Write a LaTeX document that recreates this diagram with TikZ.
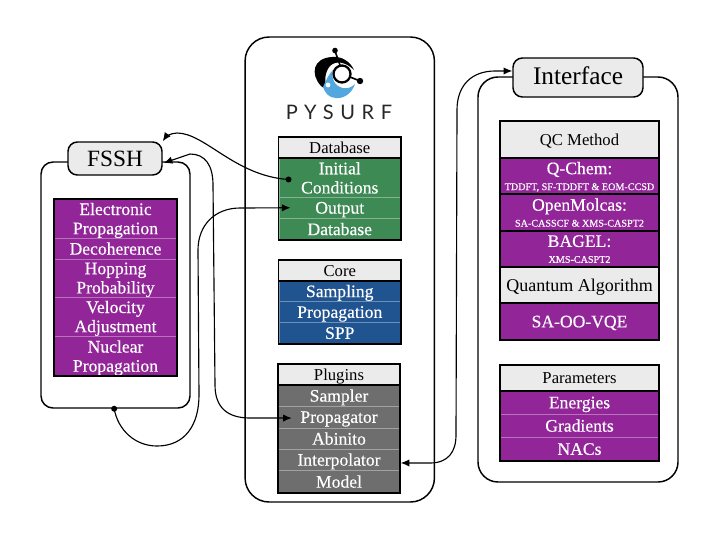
\documentclass[tikz,border=0pt]{standalone}
\usepackage{fontspec}
\setmainfont{Liberation Serif}
\newfontfamily\rowfont[FakeBold=0.35]{Liberation Serif}
\newfontfamily\logofont[LetterSpace=33]{Lato}
\usepackage{xcolor}
\usetikzlibrary{calc,arrows.meta}
\definecolor{dbgreen}{RGB}{62,138,85}
\definecolor{coreblue}{RGB}{32,84,145}
\definecolor{plugray}{RGB}{110,110,110}
\definecolor{ifpurple}{RGB}{146,38,152}
\definecolor{headgray}{RGB}{235,235,235}
\definecolor{logoblue}{RGB}{82,168,222}
\tikzset{
  frame/.style={draw=black,line width=1.1pt,rounded corners=#1,inner sep=0pt},
  label/.style={draw=black,line width=1.1pt,fill=headgray,rounded corners=7pt,inner sep=0pt},
  row/.style={fill=#1,draw=white!35!#1,line width=0.3pt,text=white,inner sep=0pt,align=center,text depth=0pt,
    font=\rowfont\fontsize{13.2}{14.4}\selectfont},
  head/.style={fill=headgray,inner sep=0pt,align=center,text=black,text depth=0pt,font=\fontsize{12.5}{14.4}\selectfont},
  table/.style={draw=black,line width=1.2pt},
  link/.style={black,line width=0.85pt,>={Latex[length=6.5pt,width=5.5pt]}}
}
\newcommand{\subline}[1]{{\fontsize{7.6}{8}\selectfont #1}}
\begin{document}
\begin{tikzpicture}[x=0.75pt,y=-0.75pt]
  \useasboundingbox (0,0) rectangle (720,540);

  % outer frames
  \node[frame=18pt,minimum width=142pt,minimum height=348.75pt] (coreframe) at (339.75,269.5) {};
  \node[frame=9pt,minimum width=111.75pt,minimum height=184.5pt] (fsshframe) at (115.5,285) {};
  \node[frame=15pt,minimum width=150pt,minimum height=303.75pt] (ifframe) at (578,279.5) {};
  \node[label,minimum width=70.5pt,minimum height=24.75pt,font=\fontsize{17.5}{20}\selectfont] (fsshlabel) at (115,158.5) {FSSH};
  \node[label,minimum width=97.5pt,minimum height=29.25pt,font=\fontsize{19}{22}\selectfont] (iflabel) at (578,77.5) {\raisebox{2.2pt}{Interface}};

  % logo
  \fill[black] (321,86) .. controls (310,74) and (313,58) .. (332,57) .. controls (341,56) and (350,61) .. (354,70)
    .. controls (346,62) and (336,60) .. (330,66) .. controls (325,72) and (324,80) .. (327,90) -- cycle;
  \fill[logoblue] (323,87) .. controls (326,80) and (329,74) .. (333,70) .. controls (331,78) and (334,86) .. (343,88)
    .. controls (348,89) and (352,87) .. (355,84) .. controls (352,93) and (344,99) .. (336,98) .. controls (329,98) and (325,93) .. (323,87) -- cycle;
  \fill[white] (328,85) circle (2.4);
  \draw[black,line width=1.7pt,fill=white] (342,74) circle (8.5);
  \draw[black,line width=1.2pt] (335,51) -- (340,65);
  \draw[black,line width=1.2pt] (350,77) -- (360,81);
  \fill[black] (335,50.5) circle (2.8);
  \fill[black] (360,81) circle (3.2);
  \node[inner sep=0pt,text=black!85,font=\logofont\fontsize{15}{17}\selectfont] (logotext) at (339,112) {PYSURF};

  % database
  \node[head,minimum width=91.5pt,minimum height=15.75pt] (dbhead) at (339.75,147.5) {Database};
  \node[row=dbgreen,minimum width=91.5pt,minimum height=29.25pt] (dbinit) at (339.75,177.75) {Initial\\Conditions};
  \node[row=dbgreen,minimum width=91.5pt,minimum height=15.75pt] (dboutput) at (339.75,207.75) {Output};
  \node[row=dbgreen,minimum width=91.5pt,minimum height=15.75pt] (dbbase) at (339.75,229) {Database};
  \draw[table] (dbhead.north west) rectangle (dbbase.south east);
  \draw[table] (dbhead.south west) -- (dbhead.south east);

  % core
  \node[head,minimum width=91.5pt,minimum height=15.75pt] (corehead) at (339.75,270.5) {Core};
  \node[row=coreblue,minimum width=91.5pt,minimum height=15.75pt] (coresampling) at (339.75,291) {Sampling};
  \node[row=coreblue,minimum width=91.5pt,minimum height=15.75pt] (corepropagation) at (339.75,312) {Propagation};
  \node[row=coreblue,minimum width=91.5pt,minimum height=15.75pt] (corespp) at (339.75,333) {SPP};
  \draw[table] (corehead.north west) rectangle (corespp.south east);
  \draw[table] (corehead.south west) -- (corehead.south east);

  % plugins
  \node[head,minimum width=91.5pt,minimum height=15.75pt] (plughead) at (339,374.5) {Plugins};
  \node[row=plugray,minimum width=91.5pt,minimum height=15.75pt] (plugsampler) at (339,395.5) {Sampler};
  \node[row=plugray,minimum width=91.5pt,minimum height=16.5pt] (plugprop) at (339,417) {Propagator};
  \node[row=plugray,minimum width=91.5pt,minimum height=15.75pt] (plugabinito) at (339,438.5) {Abinito};
  \node[row=plugray,minimum width=91.5pt,minimum height=15.75pt] (pluginterp) at (339,459.5) {Interpolator};
  \node[row=plugray,minimum width=91.5pt,minimum height=16.5pt] (plugmodel) at (339,481.5) {Model};
  \draw[table] (plughead.north west) rectangle (plugmodel.south east);
  \draw[table] (plughead.south west) -- (plughead.south east);

  % fssh
  \node[row=ifpurple,minimum width=92.25pt,minimum height=29.25pt] (fsshelec) at (115.5,218.5) {Electronic\\Propagation};
  \node[row=ifpurple,minimum width=92.25pt,minimum height=15.75pt] (fsshdeco) at (115.5,248.5) {Decoherence};
  \node[row=ifpurple,minimum width=92.25pt,minimum height=28.5pt] (fsshhop) at (115.5,278) {Hopping\\Probability};
  \node[row=ifpurple,minimum width=92.25pt,minimum height=29.25pt] (fsshvel) at (115.5,316.5) {Velocity\\Adjustment};
  \node[row=ifpurple,minimum width=92.25pt,minimum height=30pt] (fsshnuc) at (115.5,356) {Nuclear\\Propagation};
  \draw[table] (fsshelec.north west) rectangle (fsshnuc.south east);

  % interface
  \node[head,minimum width=119.25pt,minimum height=27.75pt] (qchead) at (579.5,139.5) {QC Method};
  \node[row=ifpurple,minimum width=119.25pt,minimum height=27pt] (qcchem) at (579.5,176) {Q-Chem:\\[-2.5pt]\subline{TDDFT, SF-TDDFT \& EOM-CCSD}};
  \node[row=ifpurple,minimum width=119.25pt,minimum height=27.75pt] (qcmolcas) at (579.5,212.5) {OpenMolcas:\\[-2.5pt]\subline{SA-CASSCF \& XMS-CASPT2}};
  \node[row=ifpurple,minimum width=119.25pt,minimum height=27pt] (qcbagel) at (579.5,249) {BAGEL:\\[-2.5pt]\subline{XMS-CASPT2}};
  \node[head,minimum width=119.25pt,minimum height=27pt,font=\fontsize{13.5}{15}\selectfont] (qcalgo) at (579.5,285) {Quantum Algorithm};
  \node[row=ifpurple,minimum width=119.25pt,minimum height=27.75pt] (qcvqe) at (579.5,321.5) {SA-OO-VQE};
  \draw[table] (qchead.north west) rectangle (qcvqe.south east);
  \draw[table] (qchead.south west) -- (qchead.south east);
  \draw[table] (qcchem.south west) -- (qcchem.south east);
  \draw[table] (qcmolcas.south west) -- (qcmolcas.south east);
  \draw[table] (qcbagel.south west) -- (qcbagel.south east);
  \draw[table] (qcalgo.south west) -- (qcalgo.south east);

  % parameters
  \node[head,minimum width=119.25pt,minimum height=19.5pt] (parhead) at (579.5,378) {Parameters};
  \node[row=ifpurple,minimum width=119.25pt,minimum height=17.25pt] (parenergy) at (579.5,402.5) {Energies};
  \node[row=ifpurple,minimum width=119.25pt,minimum height=17.25pt] (pargrad) at (579.5,425.5) {Gradients};
  \node[row=ifpurple,minimum width=119.25pt,minimum height=18pt] (parnac) at (579.5,449) {NACs};
  \draw[table] (parhead.north west) rectangle (parnac.south east);
  \draw[table] (parhead.south west) -- (parhead.south east);

  % connectors
  \coordinate (initdot) at ($(dbinit.west)+(7.5pt,-1.3pt)$);
  \coordinate (fsshdot) at ($(fsshframe.south)+(-1pt,0)$);
  \fill[black] (initdot) circle (3);
  \fill[black] (fsshdot) circle (3);
  \draw[link,->] (initdot) .. controls (235,176) and (205,133) .. (177,133) .. controls (170,133) and (165,138) .. (fsshlabel.north east);
  \draw[link,<->] ($(fsshlabel.east)+(0.7pt,-3.4pt)$) -- (190,154) .. controls (205,154) and (213,165) .. (213,185) -- (215,385)
    .. controls (215,408) and (228,418) .. (250,418) -- ($(plugprop.west)+(10.5pt,-0.8pt)$);
  \draw[link,->] (fsshdot) .. controls (118,430) and (135,446) .. (157,446) .. controls (185,446) and (199,425) .. (199,395)
    -- (198,250) .. controls (198,225) and (215,208) .. (240,208) -- ($(dboutput.west)+(9pt,0)$);
  \draw[link,<->] ($(pluginterp.east)+(0.4pt,-2.6pt)$) -- (430,463) .. controls (448,463) and (456,452) .. (456,435) -- (457,110)
    .. controls (457,85) and (472,71) .. (495,71) -- ($(iflabel.west)+(0,4.9pt)$);
\end{tikzpicture}
\end{document}
